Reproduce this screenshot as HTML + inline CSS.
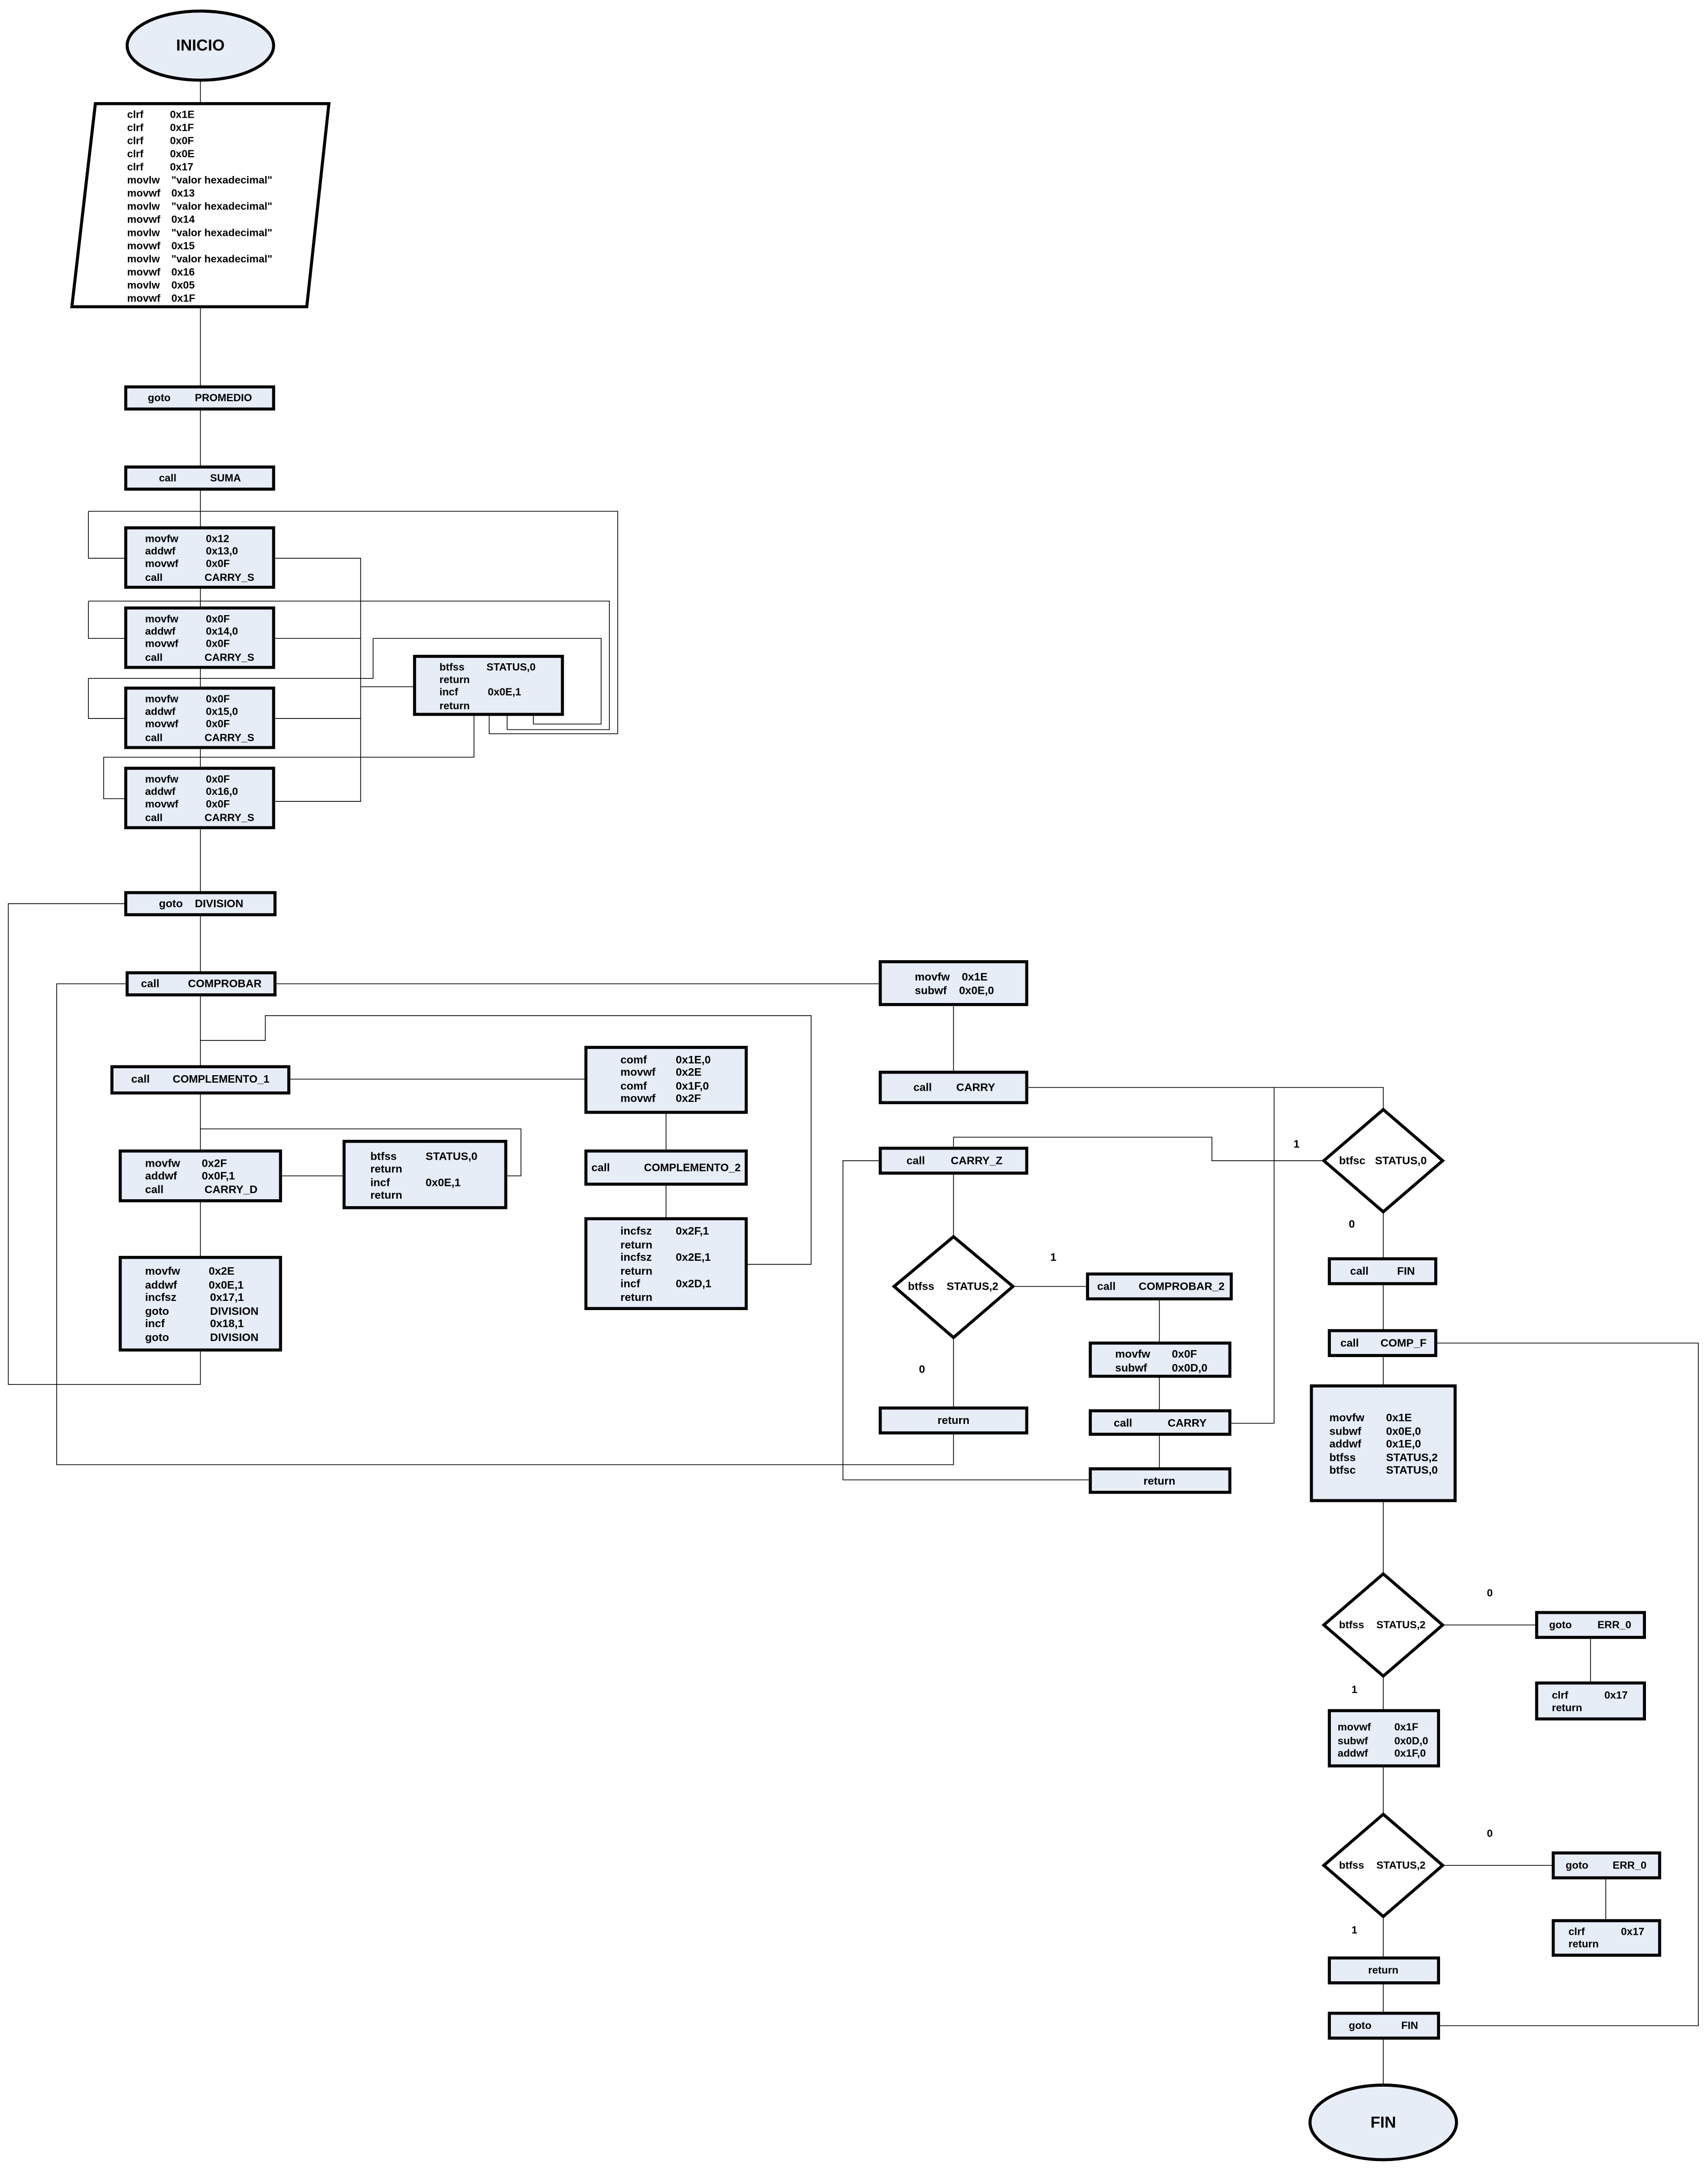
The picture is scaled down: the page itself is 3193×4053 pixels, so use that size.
<!DOCTYPE html>
<html><head><meta charset="utf-8"><style>
html,body{margin:0;padding:0;background:#fff}
svg{display:block}
text{font-family:"Liberation Sans",sans-serif;font-weight:bold;font-size:7.6px;fill:#000;dominant-baseline:central}
.n{font-size:8px;font-weight:bold;font-stretch:condensed}
.b{fill:#e7edf7;stroke:#000;stroke-width:2.2}
.l{fill:none;stroke:#000;stroke-width:0.55}
.d{fill:#fff;stroke:#000;stroke-width:2.2}
</style></head><body>
<svg width="3193" height="4053" viewBox="0 0 1236 1569" preserveAspectRatio="none" xmlns="http://www.w3.org/2000/svg">
<g class="l">
<path d="M145 58V280M145 296V338M145 354V382M145 425V440M145 483V498M145 541V556M145 599V646M145 662V704M145 720V772M145 791V833M145 869V910"/>
<path d="M64 370H447V531H354V517M64 370V404H91"/>
<path d="M64 435H441V528H367V517M64 435V462H91"/>
<path d="M270 462H435V524H386V517M270 462V491H64V520H91"/>
<path d="M198 404H261V580H198M198 462H261M198 520H261M261 497H300"/>
<path d="M343 517V548H75V578H91"/>
<path d="M91 654H6V1002H145V977"/>
<path d="M92 712H41V1060H690V1037"/>
<path d="M199 712H637"/>
<path d="M145 753H192V735H587V915H540"/>
<path d="M209 781H424M482 805V833M482 857V882"/>
<path d="M145 817H377V851H366M203 851H249"/>
<path d="M690 727V776M743 787H1001V803M922 787V1030H891"/>
<path d="M958 840H877V823H690V831M637 840H610V1071H788"/>
<path d="M690 849V895M733 931H787M690 968V1019M839 940V972M839 996V1021M839 1038V1063"/>
<path d="M1001 877V911M1001 929V963M1001 981V1003M1001 1086V1139M1001 1213V1238M1001 1278V1313M1001 1387V1417M1001 1435V1457M1001 1475V1509"/>
<path d="M1039 972H1229V1466H1041"/>
<path d="M1044 1176H1112M1151 1185V1218M1044 1350H1124M1162 1359V1390"/>
</g>
<ellipse class="b" cx="145" cy="33" rx="53" ry="25"/>
<text x="145" y="33" text-anchor="middle" style="font-size:11.5px">INICIO</text>
<ellipse class="b" cx="1001" cy="1536" rx="53" ry="27"/>
<text x="1001" y="1536" text-anchor="middle" style="font-size:11.5px">FIN</text>
<polygon points="69,75 238,75 222,222 52,222" fill="#fff" stroke="#000" stroke-width="2.2"/>
<g>
<text x="92" y="83">clrf</text><text x="123" y="83">0x1E</text>
<text x="92" y="92.5">clrf</text><text x="123" y="92.5">0x1F</text>
<text x="92" y="102">clrf</text><text x="123" y="102">0x0F</text>
<text x="92" y="111.5">clrf</text><text x="123" y="111.5">0x0E</text>
<text x="92" y="121">clrf</text><text x="123" y="121">0x17</text>
<text x="92" y="130.5">movlw</text><text x="124" y="130.5">"valor hexadecimal"</text>
<text x="92" y="140">movwf</text><text x="124" y="140">0x13</text>
<text x="92" y="149.5">movlw</text><text x="124" y="149.5">"valor hexadecimal"</text>
<text x="92" y="159">movwf</text><text x="124" y="159">0x14</text>
<text x="92" y="168.5">movlw</text><text x="124" y="168.5">"valor hexadecimal"</text>
<text x="92" y="178">movwf</text><text x="124" y="178">0x15</text>
<text x="92" y="187.5">movlw</text><text x="124" y="187.5">"valor hexadecimal"</text>
<text x="92" y="197">movwf</text><text x="124" y="197">0x16</text>
<text x="92" y="206.5">movlw</text><text x="124" y="206.5">0x05</text>
<text x="92" y="216">movwf</text><text x="124" y="216">0x1F</text>
</g>
<rect class="b" x="91" y="280" width="107" height="16"/><text x="107" y="288">goto</text><text x="141" y="288">PROMEDIO</text>
<rect class="b" x="91" y="338" width="107" height="16"/><text x="115" y="346">call</text><text x="152" y="346">SUMA</text>
<rect class="b" x="91" y="382" width="107" height="43"/>
<text x="105" y="390">movfw</text><text x="149" y="390">0x12</text>
<text x="105" y="399">addwf</text><text x="149" y="399">0x13,0</text>
<text x="105" y="408">movwf</text><text x="149" y="408">0x0F</text>
<text x="105" y="418">call</text><text x="148" y="418">CARRY_S</text>
<rect class="b" x="91" y="440" width="107" height="43"/>
<text x="105" y="448">movfw</text><text x="149" y="448">0x0F</text>
<text x="105" y="457">addwf</text><text x="149" y="457">0x14,0</text>
<text x="105" y="466">movwf</text><text x="149" y="466">0x0F</text>
<text x="105" y="476">call</text><text x="148" y="476">CARRY_S</text>
<rect class="b" x="91" y="498" width="107" height="43"/>
<text x="105" y="506">movfw</text><text x="149" y="506">0x0F</text>
<text x="105" y="515">addwf</text><text x="149" y="515">0x15,0</text>
<text x="105" y="524">movwf</text><text x="149" y="524">0x0F</text>
<text x="105" y="534">call</text><text x="148" y="534">CARRY_S</text>
<rect class="b" x="91" y="556" width="107" height="43"/>
<text x="105" y="564">movfw</text><text x="149" y="564">0x0F</text>
<text x="105" y="573">addwf</text><text x="149" y="573">0x16,0</text>
<text x="105" y="582">movwf</text><text x="149" y="582">0x0F</text>
<text x="105" y="592">call</text><text x="148" y="592">CARRY_S</text>
<rect class="b" x="300" y="475" width="107" height="42"/>
<text x="318" y="483">btfss</text><text x="352" y="483">STATUS,0</text>
<text x="318" y="492">return</text>
<text x="318" y="501">incf</text><text x="353" y="501">0x0E,1</text>
<text x="318" y="511">return</text>
<g>
<rect class="b" x="91" y="646" width="108" height="16"/><text class="n" x="115" y="654">goto</text><text class="n" x="141" y="654">DIVISION</text>
<rect class="b" x="92" y="704" width="107" height="16"/><text class="n" x="102" y="712">call</text><text class="n" x="136" y="712">COMPROBAR</text>
<rect class="b" x="81" y="772" width="128" height="19"/><text class="n" x="95" y="781">call</text><text class="n" x="125" y="781" textLength="70" lengthAdjust="spacingAndGlyphs">COMPLEMENTO_1</text>
<rect class="b" x="87" y="833" width="116" height="36"/>
<text class="n" x="105" y="842">movfw</text><text class="n" x="146" y="842">0x2F</text>
<text class="n" x="105" y="851">addwf</text><text class="n" x="146" y="851">0x0F,1</text>
<text class="n" x="105" y="861">call</text><text class="n" x="148" y="861">CARRY_D</text>
<rect class="b" x="249" y="826" width="117" height="48"/>
<text class="n" x="268" y="837">btfss</text><text class="n" x="308" y="837">STATUS,0</text>
<text class="n" x="268" y="846">return</text>
<text class="n" x="268" y="856">incf</text><text class="n" x="308" y="856">0x0E,1</text>
<text class="n" x="268" y="865">return</text>
<rect class="b" x="87" y="910" width="116" height="67"/>
<text class="n" x="105" y="920">movfw</text><text class="n" x="151" y="920">0x2E</text>
<text class="n" x="105" y="930">addwf</text><text class="n" x="151" y="930">0x0E,1</text>
<text class="n" x="105" y="939">incfsz</text><text class="n" x="152" y="939">0x17,1</text>
<text class="n" x="105" y="949">goto</text><text class="n" x="152" y="949">DIVISION</text>
<text class="n" x="105" y="958">incf</text><text class="n" x="152" y="958">0x18,1</text>
<text class="n" x="105" y="968">goto</text><text class="n" x="152" y="968">DIVISION</text>
<rect class="b" x="424" y="758" width="116" height="47"/>
<text class="n" x="449" y="767">comf</text><text class="n" x="489" y="767">0x1E,0</text>
<text class="n" x="449" y="776">movwf</text><text class="n" x="489" y="776">0x2E</text>
<text class="n" x="449" y="786">comf</text><text class="n" x="489" y="786">0x1F,0</text>
<text class="n" x="449" y="795">movwf</text><text class="n" x="489" y="795">0x2F</text>
<rect class="b" x="424" y="833" width="116" height="24"/><text class="n" x="428" y="845">call</text><text class="n" x="466" y="845" textLength="70" lengthAdjust="spacingAndGlyphs">COMPLEMENTO_2</text>
<rect class="b" x="424" y="882" width="116" height="65"/>
<text class="n" x="449" y="891">incfsz</text><text class="n" x="489" y="891">0x2F,1</text>
<text class="n" x="449" y="901">return</text>
<text class="n" x="449" y="910">incfsz</text><text class="n" x="489" y="910">0x2E,1</text>
<text class="n" x="449" y="920">return</text>
<text class="n" x="449" y="929">incf</text><text class="n" x="489" y="929">0x2D,1</text>
<text class="n" x="449" y="939">return</text>
<rect class="b" x="637" y="696" width="106" height="31"/>
<text class="n" x="662" y="707">movfw</text><text class="n" x="696" y="707">0x1E</text>
<text class="n" x="662" y="717">subwf</text><text class="n" x="694" y="717">0x0E,0</text>
<rect class="b" x="637" y="776" width="106" height="22"/><text class="n" x="661" y="787">call</text><text class="n" x="692" y="787">CARRY</text>
<rect class="b" x="637" y="831" width="106" height="18"/><text class="n" x="656" y="840">call</text><text class="n" x="688" y="840">CARRY_Z</text>
<polygon class="d" points="690,895 733,931 690,968 647,931"/>
<text class="n" x="657" y="931">btfss</text><text class="n" x="685" y="931">STATUS,2</text>
<text class="n" x="760" y="910">1</text><text class="n" x="665" y="991">0</text>
<rect class="b" x="637" y="1019" width="106" height="18"/><text class="n" x="690" y="1028" text-anchor="middle">return</text>
<rect class="b" x="787" y="922" width="104" height="18"/><text class="n" x="794" y="931">call</text><text class="n" x="824" y="931">COMPROBAR_2</text>
<rect class="b" x="789" y="972" width="101" height="24"/>
<text class="n" x="807" y="980">movfw</text><text class="n" x="848" y="980">0x0F</text>
<text class="n" x="807" y="990">subwf</text><text class="n" x="848" y="990">0x0D,0</text>
<rect class="b" x="789" y="1021" width="101" height="17"/><text class="n" x="806" y="1030">call</text><text class="n" x="845" y="1030">CARRY</text>
<rect class="b" x="789" y="1063" width="101" height="17"/><text class="n" x="839" y="1072" text-anchor="middle">return</text>
<polygon class="d" points="1001,803 1044,840 1001,877 958,840"/>
<text class="n" x="969" y="840">btfsc</text><text class="n" x="995" y="840">STATUS,0</text>
<text class="n" x="936" y="828">1</text><text class="n" x="976" y="886">0</text>
<rect class="b" x="962" y="911" width="77" height="18"/><text class="n" x="977" y="920">call</text><text class="n" x="1011" y="920">FIN</text>
<rect class="b" x="962" y="963" width="77" height="18"/><text class="n" x="970" y="972">call</text><text class="n" x="999" y="972">COMP_F</text>
<rect class="b" x="949" y="1003" width="104" height="83"/>
<text class="n" x="962" y="1026">movfw</text><text class="n" x="1003" y="1026">0x1E</text>
<text class="n" x="962" y="1036">subwf</text><text class="n" x="1003" y="1036">0x0E,0</text>
<text class="n" x="962" y="1045">addwf</text><text class="n" x="1003" y="1045">0x1E,0</text>
<text class="n" x="962" y="1055">btfss</text><text class="n" x="1003" y="1055">STATUS,2</text>
<text class="n" x="962" y="1064">btfsc</text><text class="n" x="1003" y="1064">STATUS,0</text>
</g>
<polygon class="d" points="1001,1139 1044,1176 1001,1213 958,1176"/>
<text x="969" y="1176">btfss</text><text x="996" y="1176">STATUS,2</text>
<text x="1076" y="1153">0</text><text x="978" y="1223">1</text>
<rect class="b" x="1112" y="1167" width="78" height="18"/><text x="1121" y="1176">goto</text><text x="1156" y="1176">ERR_0</text>
<rect class="b" x="1112" y="1218" width="78" height="26"/>
<text x="1123" y="1227">clrf</text><text x="1161" y="1227">0x17</text><text x="1123" y="1236">return</text>
<rect class="b" x="962" y="1238" width="79" height="40"/>
<text x="968" y="1250">movwf</text><text x="1009" y="1250">0x1F</text>
<text x="968" y="1260">subwf</text><text x="1009" y="1260">0x0D,0</text>
<text x="968" y="1269">addwf</text><text x="1009" y="1269">0x1F,0</text>
<polygon class="d" points="1001,1313 1044,1350 1001,1387 958,1350"/>
<text x="969" y="1350">btfss</text><text x="996" y="1350">STATUS,2</text>
<text x="1076" y="1327">0</text><text x="978" y="1397">1</text>
<rect class="b" x="1124" y="1341" width="77" height="18"/><text x="1133" y="1350">goto</text><text x="1167" y="1350">ERR_0</text>
<rect class="b" x="1124" y="1390" width="77" height="25"/>
<text x="1135" y="1398">clrf</text><text x="1173" y="1398">0x17</text><text x="1135" y="1407">return</text>
<rect class="b" x="962" y="1417" width="79" height="18"/><text x="1001" y="1426" text-anchor="middle">return</text>
<rect class="b" x="962" y="1457" width="79" height="18"/><text x="976" y="1466">goto</text><text x="1014" y="1466">FIN</text>
</svg>
</body></html>
